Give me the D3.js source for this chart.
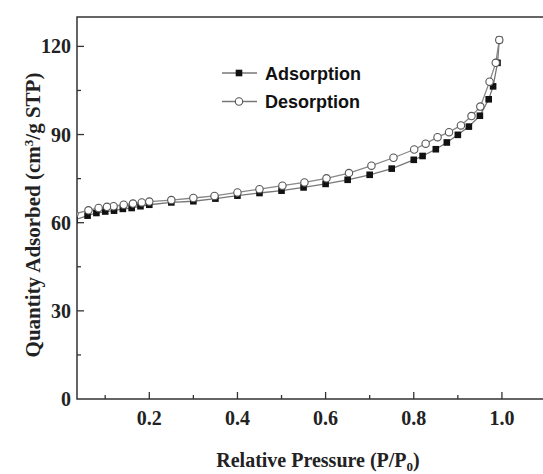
<!DOCTYPE html>
<html>
<head>
<meta charset="utf-8">
<script src="https://cdn.jsdelivr.net/npm/d3@7"></script>
<style>
  body { margin: 0; background: #fff; }
  svg { display: block; }
</style>
</head>
<body>
<div id="chart"></div>
<script>
// adsorption branch (P/P0, cm3/g STP)
var adsP = [0.03, 0.06, 0.08, 0.1, 0.12, 0.14, 0.16, 0.18, 0.2, 0.25, 0.3, 0.35, 0.4, 0.45, 0.5, 0.55, 0.6, 0.65, 0.7, 0.75, 0.8, 0.82, 0.85, 0.875, 0.9, 0.925, 0.95, 0.97, 0.98, 0.99, 0.994];
var adsQ = [60.9, 62.4, 63.3, 63.8, 64.1, 64.7, 65.0, 65.6, 66.1, 66.9, 67.3, 68.2, 69.2, 70.1, 70.9, 72.0, 73.2, 74.6, 76.3, 78.4, 81.4, 82.7, 85.0, 87.3, 89.9, 92.7, 96.4, 102.0, 106.4, 114.4, 122.2];
// desorption branch
var desP = [0.994, 0.986, 0.972, 0.951, 0.931, 0.907, 0.88, 0.854, 0.827, 0.801, 0.754, 0.704, 0.653, 0.602, 0.552, 0.502, 0.45, 0.4, 0.348, 0.3, 0.25, 0.2, 0.183, 0.163, 0.142, 0.119, 0.104, 0.085, 0.062, 0.03];
var desQ = [122.2, 114.4, 108.0, 99.5, 96.3, 93.1, 90.8, 89.1, 86.9, 84.9, 82.1, 79.4, 76.9, 75.1, 73.7, 72.6, 71.4, 70.3, 69.1, 68.4, 67.7, 67.2, 66.9, 66.5, 66.1, 65.6, 65.4, 65.0, 64.2, 63.0];

var xTicks = [0.2, 0.4, 0.6, 0.8, 1.0];
var xMinor = [0.1, 0.3, 0.5, 0.7, 0.9];
var yTicks = [0, 30, 60, 90, 120];
var yMinor = [15, 45, 75, 105];
var seriesNames = ["Adsorption", "Desorption"];

var W = 543, H = 474;
var pLeft = 77, pTop = 17, pBottom = 399, pRight = 546;

var x = d3.scaleLinear().domain([0.036, 1.1]).range([pLeft, pRight]);
var y = d3.scaleLinear().domain([0, 130]).range([pBottom, pTop]);

var svg = d3.select("#chart").append("svg")
  .attr("width", W).attr("height", H);

svg.append("defs").append("clipPath").attr("id", "plotclip")
  .append("rect")
    .attr("x", pLeft).attr("y", pTop)
    .attr("width", pRight - pLeft).attr("height", pBottom - pTop);

var serif = "'Liberation Serif', 'Times New Roman', serif";
var sans = "'Liberation Sans', Arial, sans-serif";

// frame: left, bottom, top (right side runs off the picture)
svg.append("path")
  .attr("d", "M" + pRight + "," + pTop + "H" + pLeft + "V" + pBottom + "H" + pRight)
  .attr("fill", "none").attr("stroke", "#333").attr("stroke-width", 1.5);

// ticks point inward
svg.selectAll(".xt").data(xTicks).enter().append("line")
  .attr("x1", d => x(d)).attr("x2", d => x(d))
  .attr("y1", pBottom).attr("y2", pBottom - 7)
  .attr("stroke", "#333").attr("stroke-width", 1.3);
svg.selectAll(".xm").data(xMinor).enter().append("line")
  .attr("x1", d => x(d)).attr("x2", d => x(d))
  .attr("y1", pBottom).attr("y2", pBottom - 4)
  .attr("stroke", "#333").attr("stroke-width", 1.3);
svg.selectAll(".yt").data(yTicks.filter(d => d > 0)).enter().append("line")
  .attr("x1", pLeft).attr("x2", pLeft + 7)
  .attr("y1", d => y(d)).attr("y2", d => y(d))
  .attr("stroke", "#333").attr("stroke-width", 1.3);
svg.selectAll(".ym").data(yMinor).enter().append("line")
  .attr("x1", pLeft).attr("x2", pLeft + 4)
  .attr("y1", d => y(d)).attr("y2", d => y(d))
  .attr("stroke", "#333").attr("stroke-width", 1.3);

svg.selectAll(".xl").data(xTicks).enter().append("text")
  .attr("x", d => x(d)).attr("y", 425)
  .attr("text-anchor", "middle")
  .style("font-family", serif).style("font-weight", "bold").style("font-size", "20px")
  .attr("fill", "#222")
  .text(d => d3.format(".1f")(d));

svg.selectAll(".yl").data(yTicks).enter().append("text")
  .attr("x", 71).attr("y", d => y(d) + 7)
  .attr("text-anchor", "end")
  .style("font-family", serif).style("font-weight", "bold").style("font-size", "20px")
  .attr("fill", "#222")
  .text(d => d);

// axis titles
var xt = svg.append("text")
  .attr("x", 318).attr("y", 467)
  .attr("text-anchor", "middle")
  .style("font-family", serif).style("font-weight", "bold").style("font-size", "20px")
  .attr("fill", "#222");
xt.append("tspan").text("Relative Pressure (P/P");
xt.append("tspan").attr("dy", 4).style("font-size", "13px").text("0");
xt.append("tspan").attr("dy", -4).text(")");

var yt = svg.append("text")
  .attr("transform", "translate(40,215) rotate(-90)")
  .attr("text-anchor", "middle")
  .style("font-family", serif).style("font-weight", "bold").style("font-size", "21px")
  .attr("fill", "#222");
yt.append("tspan").text("Quantity Adsorbed (cm");
yt.append("tspan").attr("dy", -7).style("font-size", "13px").text("3");
yt.append("tspan").attr("dy", 7).text("/g STP)");

// data
var ads = adsP.map((p, i) => ({p: p, q: adsQ[i]}));
var des = desP.map((p, i) => ({p: p, q: desQ[i]}));
var line = d3.line().x(d => x(d.p)).y(d => y(d.q));

var plot = svg.append("g").attr("clip-path", "url(#plotclip)");

plot.append("path").datum(ads)
  .attr("d", line).attr("fill", "none")
  .attr("stroke", "#777").attr("stroke-width", 1.3);
plot.selectAll(".ads").data(ads).enter().append("rect")
  .attr("x", d => x(d.p) - 3.3).attr("y", d => y(d.q) - 3.3)
  .attr("width", 6.6).attr("height", 6.6)
  .attr("fill", "#111");

plot.append("path").datum(des)
  .attr("d", line).attr("fill", "none")
  .attr("stroke", "#888").attr("stroke-width", 1.3);
plot.selectAll(".des").data(des).enter().append("circle")
  .attr("cx", d => x(d.p)).attr("cy", d => y(d.q)).attr("r", 3.7)
  .attr("fill", "#fff").attr("stroke", "#555").attr("stroke-width", 1.1);

// legend
var leg = svg.append("g");
seriesNames.forEach(function(name, i) {
  var ly = 73 + i * 28.5;
  leg.append("line")
    .attr("x1", 222).attr("x2", 257).attr("y1", ly).attr("y2", ly)
    .attr("stroke", "#777").attr("stroke-width", 1.3);
  if (i == 0) {
    leg.append("rect").attr("x", 235.7).attr("y", ly - 3.3)
      .attr("width", 6.6).attr("height", 6.6).attr("fill", "#111");
  } else {
    leg.append("circle").attr("cx", 239).attr("cy", ly).attr("r", 3.7)
      .attr("fill", "#fff").attr("stroke", "#555").attr("stroke-width", 1.1);
  }
  leg.append("text")
    .attr("x", 265).attr("y", ly + 6.5)
    .style("font-family", sans).style("font-weight", "bold").style("font-size", "18px")
    .attr("fill", "#111")
    .text(name);
});
</script>
</body>
</html>
